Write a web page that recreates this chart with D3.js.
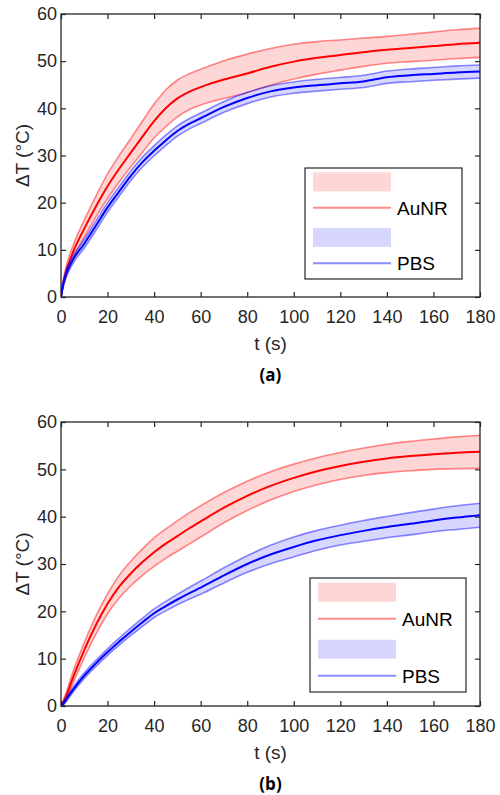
<!DOCTYPE html>
<html>
<head>
<meta charset="utf-8">
<script src="https://cdn.jsdelivr.net/npm/d3@7"></script>
<style>
  body { margin: 0; padding: 0; background: #fff; }
  svg { display: block; }
</style>
</head>
<body>
<script>
// time axis (s), shared by all series
const tSec = [0, 1, 2, 5, 10, 15, 20, 25, 30, 35, 40, 45, 50, 55, 60, 70, 80, 90, 100, 110, 120, 130, 140, 150, 160, 170, 180];

// panel (a)
const aAuNRMean = [0, 3, 5, 9.3, 14.5, 19.2, 23.5, 27.2, 30.6, 34.0, 37.3, 40.0, 42.1, 43.5, 44.5, 46.1, 47.4, 48.8, 49.9, 50.7, 51.3, 51.9, 52.4, 52.8, 53.2, 53.6, 53.9];
const aAuNRSd   = [0, 0.8, 1.1, 1.4, 1.8, 2.2, 2.6, 2.8, 3.0, 3.3, 3.6, 3.9, 3.9, 3.8, 3.8, 4.0, 4.1, 3.9, 3.7, 3.45, 3.2, 3.0, 2.85, 2.9, 3.0, 3.05, 3.1];
const aPBSMean  = [0, 2.8, 4.6, 7.8, 11.3, 15.1, 19, 22.4, 25.7, 28.6, 31, 33.2, 35.2, 36.7, 37.9, 40.3, 42.2, 43.6, 44.4, 44.9, 45.3, 45.7, 46.6, 47, 47.3, 47.6, 47.8];
const aPBSSd    = [0, 0.5, 0.7, 0.8, 0.9, 1.0, 1.0, 1.0, 1.0, 1.05, 1.05, 1.1, 1.1, 1.1, 1.1, 1.15, 1.2, 1.2, 1.2, 1.25, 1.25, 1.3, 1.3, 1.35, 1.35, 1.4, 1.4];

// panel (b)
const bAuNRMean = [0, 0.8, 1.8, 5.8, 11.8, 17.1, 21.6, 25.2, 28, 30.4, 32.5, 34.3, 35.9, 37.5, 39.0, 41.9, 44.4, 46.5, 48.2, 49.6, 50.7, 51.6, 52.3, 52.8, 53.2, 53.5, 53.7];
const bAuNRSd   = [0, 0.5, 0.8, 1.2, 1.6, 1.9, 2.1, 2.4, 2.6, 2.8, 3.0, 3.1, 3.2, 3.3, 3.3, 3.2, 3.1, 3.0, 2.9, 2.85, 2.85, 2.9, 3.0, 3.1, 3.2, 3.35, 3.5];
const bPBSMean  = [0, 0.5, 1.2, 3.3, 6.4, 9.0, 11.4, 13.6, 15.7, 17.7, 19.6, 21.1, 22.5, 23.8, 25, 27.6, 30.0, 32, 33.6, 35, 36.1, 37, 37.8, 38.5, 39.2, 39.8, 40.3];
const bPBSSd    = [0, 0.3, 0.4, 0.5, 0.6, 0.65, 0.7, 0.75, 0.8, 0.85, 0.9, 1.0, 1.1, 1.25, 1.4, 1.6, 1.75, 1.95, 2.1, 2.1, 2.1, 2.2, 2.25, 2.35, 2.4, 2.5, 2.55];

const xTicks = [0, 20, 40, 60, 80, 100, 120, 140, 160, 180];
const yTicks = [0, 10, 20, 30, 40, 50, 60];
const seriesNames = ['AuNR', 'PBS'];

const W = 500, H = 795;
const axisColor = '#262626';
const colors = {
  AuNR: { main: '#ff0000', edge: 'rgba(255,0,0,0.45)', fill: 'rgba(255,0,0,0.16)' },
  PBS:  { main: '#0000ff', edge: 'rgba(0,0,255,0.45)', fill: 'rgba(0,0,255,0.16)' }
};

const panels = [
  { id: 'a', label: '(a)', top: 14, bottom: 297,
    series: { AuNR: [aAuNRMean, aAuNRSd], PBS: [aPBSMean, aPBSSd] },
    legend: { x: 305, y: 168, w: 157, h: 111 } },
  { id: 'b', label: '(b)', top: 422, bottom: 706,
    series: { AuNR: [bAuNRMean, bAuNRSd], PBS: [bPBSMean, bPBSSd] },
    legend: { x: 310, y: 578, w: 156, h: 114 } }
];

const left = 61, right = 480;

const svg = d3.select('body').append('svg')
  .attr('width', W)
  .attr('height', H)
  .style('font-family', '"Liberation Sans", Arial, sans-serif');

panels.forEach(p => {
  const x = d3.scaleLinear().domain([0, 180]).range([left, right]);
  const y = d3.scaleLinear().domain([0, 60]).range([p.bottom, p.top]);

  const g = svg.append('g');

  g.append('clipPath').attr('id', 'clip-' + p.id)
    .append('rect')
    .attr('x', left).attr('y', p.top)
    .attr('width', right - left).attr('height', p.bottom - p.top);

  const plot = g.append('g').attr('clip-path', `url(#clip-${p.id})`);

  seriesNames.forEach(name => {
    const [mean, sd] = p.series[name];
    const rows = tSec.map((t, i) => ({ t, m: mean[i], lo: mean[i] - sd[i], hi: mean[i] + sd[i] }));
    const c = colors[name];

    plot.append('path')
      .datum(rows)
      .attr('fill', c.fill)
      .attr('d', d3.area().curve(d3.curveMonotoneX)
        .x(d => x(d.t)).y0(d => y(Math.max(0, d.lo))).y1(d => y(d.hi)));

    ['lo', 'hi'].forEach(k => {
      plot.append('path')
        .datum(rows)
        .attr('fill', 'none')
        .attr('stroke', c.edge)
        .attr('stroke-width', 1.6)
        .attr('d', d3.line().curve(d3.curveMonotoneX)
          .x(d => x(d.t)).y(d => y(Math.max(0, d[k]))));
    });

    plot.append('path')
      .datum(rows)
      .attr('fill', 'none')
      .attr('stroke', c.main)
      .attr('stroke-width', 2)
      .attr('d', d3.line().curve(d3.curveMonotoneX)
        .x(d => x(d.t)).y(d => y(d.m)));
  });

  // axes, ticks inward on all four sides
  const tickLen = 5;
  const styleAxis = sel => {
    sel.select('.domain').remove();
    sel.selectAll('.tick line').attr('stroke', axisColor).attr('stroke-width', 1.2);
    sel.selectAll('.tick text').attr('fill', axisColor).style('font-size', '18px')
      .style('font-family', '"Liberation Sans", Arial, sans-serif');
  };

  g.append('g').attr('transform', `translate(0,${p.bottom})`)
    .call(d3.axisBottom(x).tickValues(xTicks).tickSizeInner(-tickLen).tickSizeOuter(0).tickPadding(tickLen + 8))
    .call(styleAxis);
  g.append('g').attr('transform', `translate(0,${p.top})`)
    .call(d3.axisTop(x).tickValues(xTicks).tickSizeInner(-tickLen).tickSizeOuter(0).tickFormat(''))
    .call(styleAxis);
  g.append('g').attr('transform', `translate(${left},0)`)
    .call(d3.axisLeft(y).tickValues(yTicks).tickSizeInner(-tickLen).tickSizeOuter(0).tickPadding(4))
    .call(styleAxis);
  g.append('g').attr('transform', `translate(${right},0)`)
    .call(d3.axisRight(y).tickValues(yTicks).tickSizeInner(-tickLen).tickSizeOuter(0).tickFormat(''))
    .call(styleAxis);

  g.append('rect')
    .attr('x', left).attr('y', p.top)
    .attr('width', right - left).attr('height', p.bottom - p.top)
    .attr('fill', 'none').attr('stroke', axisColor).attr('stroke-width', 1.3);

  // axis labels
  g.append('text')
    .attr('x', (left + right) / 2).attr('y', p.bottom + 53)
    .attr('text-anchor', 'middle').attr('fill', axisColor)
    .style('font-size', '19px')
    .text('t (s)');

  g.append('text')
    .attr('transform', `translate(29,${(p.top + p.bottom) / 2}) rotate(-90)`)
    .attr('text-anchor', 'middle').attr('fill', axisColor)
    .style('font-size', '19px')
    .text('ΔT (°C)');

  g.append('text')
    .attr('x', (left + right) / 2).attr('y', p.bottom + 84)
    .attr('text-anchor', 'middle').attr('fill', '#000')
    .style('font-family', '"Open Sans", "Noto Sans", sans-serif')
    .style('font-weight', 'bold')
    .style('font-size', '17px')
    .text(p.label);

  // legend
  const L = p.legend;
  const lg = g.append('g');
  lg.append('rect')
    .attr('x', L.x).attr('y', L.y).attr('width', L.w).attr('height', L.h)
    .attr('fill', '#fff').attr('stroke', axisColor).attr('stroke-width', 1.2);

  const rowH = L.h / 4;
  const sx0 = L.x + 8, sx1 = L.x + 86;
  seriesNames.forEach((name, i) => {
    const c = colors[name];
    const yPatch = L.y + (2 * i) * rowH + rowH / 2;
    const yLine = L.y + (2 * i + 1) * rowH + rowH / 2 - 2;
    lg.append('rect')
      .attr('x', sx0).attr('y', yPatch - 9.5)
      .attr('width', sx1 - sx0).attr('height', 19)
      .attr('fill', c.fill);
    lg.append('line')
      .attr('x1', sx0).attr('x2', sx1)
      .attr('y1', yLine).attr('y2', yLine)
      .attr('stroke', c.edge).attr('stroke-width', 2);
    lg.append('text')
      .attr('x', sx1 + 6).attr('y', yLine + 7)
      .attr('fill', '#000')
      .style('font-size', '19px')
      .text(name);
  });
});
</script>
</body>
</html>
